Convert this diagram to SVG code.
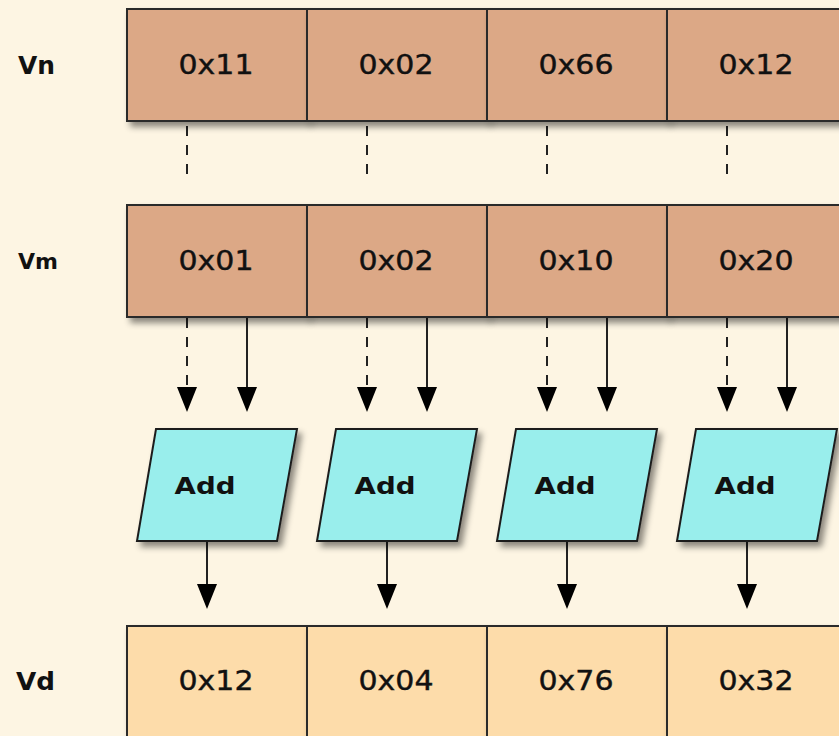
<svg xmlns="http://www.w3.org/2000/svg" width="839" height="736" viewBox="0 0 839 736">
  <defs>
    <filter id="shadow" x="-10%" y="-10%" width="130%" height="140%">
      <feDropShadow dx="4" dy="5" stdDeviation="3" flood-color="#000" flood-opacity="0.45"/>
    </filter>
    <marker id="head" viewBox="0 0 25 20" markerWidth="25" markerHeight="20" refX="13" refY="10" orient="auto" markerUnits="userSpaceOnUse">
      <path d="M0,0 L25,10 L0,20 z" fill="#000"/>
    </marker>
  </defs>
  <style>
    .bg { fill: #fdf5e3; }
    .reg { fill: #dca886; stroke: #2b2b2b; stroke-width: 2; filter: url(#shadow); }
    .dst { fill: #fddcaa; stroke: #2b2b2b; stroke-width: 2; filter: url(#shadow); }
    .op { fill: #99eeec; stroke: #1e1e1e; stroke-width: 2; filter: url(#shadow); }
    .val { font-family: "DejaVu Sans", sans-serif; font-size: 27px; fill: #111; stroke: #111; stroke-width: 0.4; text-anchor: middle; }
    .name { font-family: "DejaVu Sans", sans-serif; font-weight: bold; fill: #111; }
    .optxt { font-family: "DejaVu Sans", sans-serif; font-weight: bold; font-size: 23px; fill: #111; text-anchor: middle; }
    .wire { stroke: #222; stroke-width: 2; fill: none; }
    .dash { stroke-dasharray: 10 9; }
    .arrow { marker-end: url(#head); }
  </style>

  <rect class="bg" x="0" y="0" width="839" height="736"/>

  <!-- register names -->
  <text class="name" x="18" y="74" font-size="24" textLength="37" lengthAdjust="spacingAndGlyphs">Vn</text>
  <text class="name" x="18" y="269" font-size="21" textLength="40" lengthAdjust="spacingAndGlyphs">Vm</text>
  <text class="name" x="16" y="690" font-size="25" textLength="39" lengthAdjust="spacingAndGlyphs">Vd</text>

  <!-- connectors -->
  <g id="connectors">
    <!-- Vn lanes aligned with Vm lanes -->
    <line class="wire dash" x1="187" y1="126" x2="187" y2="178"/>
    <line class="wire dash" x1="367" y1="126" x2="367" y2="178"/>
    <line class="wire dash" x1="547" y1="126" x2="547" y2="178"/>
    <line class="wire dash" x1="727" y1="126" x2="727" y2="178"/>
    <!-- Vn lanes into adders -->
    <line class="wire dash arrow" x1="187" y1="318" x2="187" y2="400"/>
    <line class="wire dash arrow" x1="367" y1="318" x2="367" y2="400"/>
    <line class="wire dash arrow" x1="547" y1="318" x2="547" y2="400"/>
    <line class="wire dash arrow" x1="727" y1="318" x2="727" y2="400"/>
    <!-- Vm lanes into adders -->
    <line class="wire arrow" x1="247" y1="318" x2="247" y2="400"/>
    <line class="wire arrow" x1="427" y1="318" x2="427" y2="400"/>
    <line class="wire arrow" x1="607" y1="318" x2="607" y2="400"/>
    <line class="wire arrow" x1="787" y1="318" x2="787" y2="400"/>
    <!-- adders into Vd -->
    <line class="wire arrow" x1="207" y1="542" x2="207" y2="597"/>
    <line class="wire arrow" x1="387" y1="542" x2="387" y2="597"/>
    <line class="wire arrow" x1="567" y1="542" x2="567" y2="597"/>
    <line class="wire arrow" x1="747" y1="542" x2="747" y2="597"/>
  </g>

  <!-- Vn register -->
  <g id="vn0"><rect class="reg" x="127" y="9" width="180" height="112"/><text class="val" x="216" y="74" textLength="75" lengthAdjust="spacingAndGlyphs">0x11</text></g>
  <g id="vn1"><rect class="reg" x="307" y="9" width="180" height="112"/><text class="val" x="396" y="74" textLength="75" lengthAdjust="spacingAndGlyphs">0x02</text></g>
  <g id="vn2"><rect class="reg" x="487" y="9" width="180" height="112"/><text class="val" x="576" y="74" textLength="75" lengthAdjust="spacingAndGlyphs">0x66</text></g>
  <g id="vn3"><rect class="reg" x="667" y="9" width="180" height="112"/><text class="val" x="756" y="74" textLength="75" lengthAdjust="spacingAndGlyphs">0x12</text></g>

  <!-- Vm register -->
  <g id="vm0"><rect class="reg" x="127" y="205" width="180" height="112"/><text class="val" x="216" y="270" textLength="75" lengthAdjust="spacingAndGlyphs">0x01</text></g>
  <g id="vm1"><rect class="reg" x="307" y="205" width="180" height="112"/><text class="val" x="396" y="270" textLength="75" lengthAdjust="spacingAndGlyphs">0x02</text></g>
  <g id="vm2"><rect class="reg" x="487" y="205" width="180" height="112"/><text class="val" x="576" y="270" textLength="75" lengthAdjust="spacingAndGlyphs">0x10</text></g>
  <g id="vm3"><rect class="reg" x="667" y="205" width="180" height="112"/><text class="val" x="756" y="270" textLength="75" lengthAdjust="spacingAndGlyphs">0x20</text></g>

  <!-- adders -->
  <g id="add0"><polygon class="op" points="156,429 297,429 277,541 137,541"/><text class="optxt" x="205" y="494" textLength="61" lengthAdjust="spacingAndGlyphs">Add</text></g>
  <g id="add1"><polygon class="op" points="336,429 477,429 457,541 317,541"/><text class="optxt" x="385" y="494" textLength="61" lengthAdjust="spacingAndGlyphs">Add</text></g>
  <g id="add2"><polygon class="op" points="516,429 657,429 637,541 497,541"/><text class="optxt" x="565" y="494" textLength="61" lengthAdjust="spacingAndGlyphs">Add</text></g>
  <g id="add3"><polygon class="op" points="696,429 837,429 817,541 677,541"/><text class="optxt" x="745" y="494" textLength="61" lengthAdjust="spacingAndGlyphs">Add</text></g>

  <!-- Vd register -->
  <g id="vd0"><rect class="dst" x="127" y="626" width="180" height="112"/><text class="val" x="216" y="690" textLength="75" lengthAdjust="spacingAndGlyphs">0x12</text></g>
  <g id="vd1"><rect class="dst" x="307" y="626" width="180" height="112"/><text class="val" x="396" y="690" textLength="75" lengthAdjust="spacingAndGlyphs">0x04</text></g>
  <g id="vd2"><rect class="dst" x="487" y="626" width="180" height="112"/><text class="val" x="576" y="690" textLength="75" lengthAdjust="spacingAndGlyphs">0x76</text></g>
  <g id="vd3"><rect class="dst" x="667" y="626" width="180" height="112"/><text class="val" x="756" y="690" textLength="75" lengthAdjust="spacingAndGlyphs">0x32</text></g>
</svg>
